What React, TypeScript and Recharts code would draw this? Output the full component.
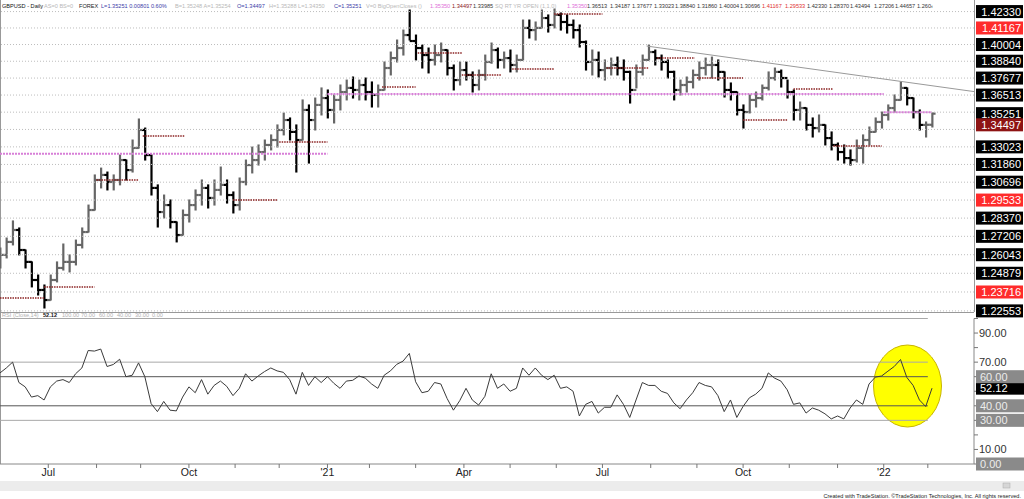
import React from "react"
import { ComposedChart, Bar, Line, XAxis, YAxis, ReferenceLine } from "recharts"

const FONT = '"Liberation Sans", Arial, sans-serif'

// each bar covers 3 trading days, x axis counts trading days from early June 2020
const BAR_DAYS = 3
const FIRST_OPEN = 1.259

const highs = [
  1.2647, 1.2710, 1.2819, 1.2774, 1.2634, 1.2559, 1.2477, 1.2415, 1.2477, 1.2559,
  1.2672, 1.2603, 1.2697, 1.2774, 1.2921, 1.3117, 1.3162, 1.3136, 1.3117, 1.3248,
  1.3215, 1.3348, 1.3489, 1.3428, 1.3248, 1.3052, 1.2986, 1.2954, 1.2812, 1.2889,
  1.2954, 1.3019, 1.3084, 1.3052, 1.3084, 1.3169, 1.3084, 1.3006, 1.3097, 1.3215,
  1.3301, 1.3315, 1.3348, 1.3382, 1.3449, 1.3529, 1.3496, 1.3449, 1.3618, 1.3584,
  1.3631, 1.3700, 1.3686, 1.3652, 1.3720, 1.3754, 1.3775, 1.3754, 1.3768, 1.3741,
  1.3720, 1.3879, 1.3948, 1.4032, 1.4102, 1.4244, 1.4067, 1.3997, 1.3976, 1.3997,
  1.4011, 1.3962, 1.3858, 1.3879, 1.3879, 1.3810, 1.3823, 1.3927, 1.4011, 1.3976,
  1.3948, 1.3962, 1.3927, 1.4173, 1.4173, 1.4159, 1.4244, 1.4209, 1.4251, 1.4223,
  1.4209, 1.4173, 1.4138, 1.4025, 1.3962, 1.3948, 1.3893, 1.3906, 1.3913, 1.3893,
  1.3815, 1.3858, 1.3927, 1.3997, 1.3962, 1.3927, 1.3893, 1.3815, 1.3754, 1.3775,
  1.3823, 1.3879, 1.3906, 1.3913, 1.3893, 1.3810, 1.3734, 1.3672, 1.3584, 1.3652,
  1.3672, 1.3720, 1.3810, 1.3837, 1.3823, 1.3754, 1.3686, 1.3604, 1.3563, 1.3496,
  1.3516, 1.3449, 1.3402, 1.3328, 1.3315, 1.3282, 1.3348, 1.3382, 1.3435, 1.3496,
  1.3536, 1.3584, 1.3652, 1.3741, 1.3700, 1.3631, 1.3550, 1.3469, 1.3529,
]

const lows = [
  1.2521, 1.2584, 1.2666, 1.2603, 1.2521, 1.2403, 1.2353, 1.2273, 1.2322, 1.2434,
  1.2508, 1.2496, 1.2540, 1.2647, 1.2748, 1.2889, 1.3032, 1.3019, 1.3019, 1.3052,
  1.3084, 1.3136, 1.3295, 1.3215, 1.2986, 1.2780, 1.2838, 1.2774, 1.2685, 1.2729,
  1.2812, 1.2889, 1.2921, 1.2902, 1.2921, 1.2986, 1.2934, 1.2870, 1.2889, 1.3052,
  1.3130, 1.3182, 1.3215, 1.3282, 1.3301, 1.3382, 1.3348, 1.3136, 1.3348, 1.3195,
  1.3415, 1.3516, 1.3496, 1.3462, 1.3550, 1.3618, 1.3631, 1.3618, 1.3618, 1.3570,
  1.3570, 1.3686, 1.3789, 1.3879, 1.3927, 1.4032, 1.3893, 1.3837, 1.3803, 1.3858,
  1.3879, 1.3789, 1.3686, 1.3720, 1.3754, 1.3672, 1.3686, 1.3754, 1.3870, 1.3837,
  1.3837, 1.3810, 1.3810, 1.3893, 1.4046, 1.4032, 1.4117, 1.4088, 1.4117, 1.4102,
  1.4081, 1.4046, 1.3983, 1.3823, 1.3789, 1.3775, 1.3754, 1.3789, 1.3789, 1.3754,
  1.3597, 1.3700, 1.3789, 1.3893, 1.3858, 1.3823, 1.3768, 1.3618, 1.3652, 1.3672,
  1.3700, 1.3754, 1.3789, 1.3768, 1.3754, 1.3638, 1.3618, 1.3516, 1.3428, 1.3530,
  1.3570, 1.3618, 1.3686, 1.3754, 1.3706, 1.3631, 1.3482, 1.3482, 1.3415, 1.3368,
  1.3402, 1.3315, 1.3282, 1.3215, 1.3195, 1.3182, 1.3202, 1.3195, 1.3315, 1.3402,
  1.3428, 1.3482, 1.3536, 1.3618, 1.3584, 1.3496, 1.3415, 1.3368, 1.3435,
]

const closes = [
  1.2603, 1.2685, 1.2761, 1.2634, 1.2559, 1.2446, 1.2384, 1.2322, 1.2446, 1.2521,
  1.2559, 1.2559, 1.2666, 1.2748, 1.2889, 1.3084, 1.3117, 1.3071, 1.3084, 1.3215,
  1.3149, 1.3295, 1.3415, 1.3248, 1.3032, 1.2876, 1.2921, 1.2812, 1.2729, 1.2857,
  1.2921, 1.2986, 1.3032, 1.2967, 1.3019, 1.3052, 1.2986, 1.2921, 1.3071, 1.3182,
  1.3215, 1.3268, 1.3315, 1.3348, 1.3415, 1.3482, 1.3402, 1.3348, 1.3550, 1.3482,
  1.3584, 1.3631, 1.3550, 1.3618, 1.3672, 1.3700, 1.3686, 1.3720, 1.3672, 1.3652,
  1.3686, 1.3837, 1.3906, 1.3976, 1.4067, 1.4025, 1.3976, 1.3927, 1.3893, 1.3927,
  1.3962, 1.3837, 1.3754, 1.3823, 1.3789, 1.3720, 1.3789, 1.3879, 1.3962, 1.3893,
  1.3906, 1.3858, 1.3893, 1.4117, 1.4102, 1.4117, 1.4187, 1.4138, 1.4209, 1.4159,
  1.4138, 1.4102, 1.4018, 1.3879, 1.3893, 1.3823, 1.3837, 1.3858, 1.3837, 1.3810,
  1.3686, 1.3810, 1.3893, 1.3948, 1.3906, 1.3879, 1.3810, 1.3686, 1.3720, 1.3741,
  1.3789, 1.3837, 1.3858, 1.3858, 1.3810, 1.3686, 1.3672, 1.3550, 1.3536, 1.3618,
  1.3631, 1.3700, 1.3768, 1.3810, 1.3768, 1.3672, 1.3550, 1.3563, 1.3449, 1.3428,
  1.3449, 1.3361, 1.3315, 1.3268, 1.3228, 1.3215, 1.3295, 1.3348, 1.3402, 1.3469,
  1.3516, 1.3563, 1.3618, 1.3700, 1.3631, 1.3536, 1.3449, 1.3450, 1.35251,
]

const rsiValues = [
  62.6, 66, 70, 56, 53, 46, 47, 44, 53, 57,
  58, 56, 62, 66, 78, 77.6, 79, 67, 68.4, 72,
  60, 61, 69.5, 60, 41.5, 36, 43, 37, 36.5, 46,
  53, 49, 58, 48, 54, 57, 53.4, 47, 52, 62,
  57, 60.5, 63.5, 66, 64, 63, 58, 48, 63, 54,
  60, 56, 60, 55.5, 52, 57, 57.5, 60.5, 59, 55,
  52, 61, 64, 68.5, 70.7, 76, 56.5, 49, 50, 56,
  55, 45, 37, 43.5, 52, 44, 40.5, 46.5, 62, 52,
  55, 50, 52, 66, 61, 66, 61, 58, 61, 52,
  53, 50, 33, 41, 43, 35, 39, 39, 47.5, 41,
  32, 44, 56, 54, 54, 50, 48.5, 42, 38, 44,
  49, 56, 54, 53, 47, 36, 44, 32, 39.6, 45.5,
  48, 52, 62.6, 59, 57, 51, 41, 42, 35, 38.5,
  37, 34.5, 31, 33, 31, 38.5, 44, 41, 55, 59.7,
  60.5, 63.8, 67, 71.8, 59.5, 54, 44, 39.5, 52.12,
]

// square-root levels around the year open, drawn as dotted grid
const sqrtLevels = [
  1.4233, 1.41167, 1.40004, 1.3884, 1.37677, 1.36513, 1.3535, 1.34187, 1.33023,
  1.3186, 1.30696, 1.29533, 1.2837, 1.27206, 1.26043, 1.24879, 1.23716, 1.22553,
]
const priceLabels = [
  1.4233, 1.41167, 1.40004, 1.3884, 1.37677, 1.36513, 1.35251, 1.34497, 1.33023,
  1.3186, 1.30696, 1.29533, 1.2837, 1.27206, 1.26043, 1.24879, 1.23716, 1.22553,
]
const redLabels = [1.41167, 1.29533, 1.23716]
const openLabel = 1.34497

// monthly open lines (BigOpenCloses)
const monthOpenLevels = [1.2335, 1.2403, 1.3084, 1.3375, 1.2954, 1.3335, 1.3706, 1.3941, 1.3789, 1.383, 1.4216, 1.3837, 1.3906, 1.3768, 1.3482, 1.3693, 1.3308]
const monthOpenFrom = [0, 21, 46, 68, 111, 133, 182, 199, 220, 244, 264, 289, 313, 332, 354, 378, 397]
const monthOpenTo = [21, 45, 66, 88, 132, 156, 198, 220, 239, 264, 287, 309, 331, 354, 375, 397, 420]

const yearOpenLevels = [1.3256, 1.3659, 1.3535]
const yearOpenFrom = [0, 156, 421]
const yearOpenTo = [156, 421, 444]

const trendDays = [308, 464]
const trendValues = [1.399, 1.3675]

const monthTickDays = [23, 46, 67, 90, 112, 133, 156, 176, 198, 221, 243, 265, 287, 310, 332, 354, 376, 399, 421, 442]
const monthTickLabels = ["Jul", "", "", "Oct", "", "", "'21", "", "", "Apr", "", "", "Jul", "", "", "Oct", "", "", "'22", ""]

const rsiBands = [100, 70, 60, 40, 30]
const rsiTicks = [0, 10, 20, 30, 40, 50, 52.12, 60, 70, 80, 90, 100]
const rsiBoxed = [60, 40, 30, 0]
const rsiPlain = [90, 70, 10]

const headerItems: [string, number, string][] = [
  ["GBPUSD - Daily", 2, "#111"],
  ["AS=0  BS=0", 44, "#b8b8b8"],
  ["FOREX", 79, "#222"],
  ["L=1.35251  0.00801  0.60%", 101, "#3c3ca8"],
  ["B=1.35248  A=1.35254", 175, "#b8b8b8"],
  ["O=1.34497", 237, "#3c3ca8"],
  ["H=1.35288  L=1.34350", 269, "#b8b8b8"],
  ["C=1.35251", 334, "#3c3ca8"],
  ["V=0  BigOpenCloses ()", 366, "#b8b8b8"],
  ["1.35350", 430, "#e070d8"],
  ["1.34497", 452, "#8b1a1a"],
  ["1.33985", 473, "#333"],
  ["SQ RT YR OPEN (1,1,0)", 495, "#b8b8b8"],
  ["1.35350", 567, "#e070d8"],
  ["1.36513", 587, "#333"],
  ["1.34187", 610, "#333"],
  ["1.37677", 632, "#333"],
  ["1.33023", 654, "#333"],
  ["1.38840", 675, "#333"],
  ["1.31860", 697, "#333"],
  ["1.40004", 719, "#333"],
  ["1.30696", 740, "#333"],
  ["1.41167", 762, "#e03030"],
  ["1.29533", 785, "#e03030"],
  ["1.42330", 807, "#333"],
  ["1.28370", 829, "#333"],
  ["1.43494", 850, "#333"],
  ["1.27206", 874, "#333"],
  ["1.44657", 895, "#333"],
  ["1.260\u2039", 917, "#333"],
]

const rsiHeader: [string, number, string][] = [
  ["RSI (Close,14)", 2, "#b0b0b0"],
  ["52.12", 43, "#111"],
  ["100.00", 62, "#b0b0b0"],
  ["70.00", 81, "#b0b0b0"],
  ["60.00", 99, "#b0b0b0"],
  ["40.00", 117, "#b0b0b0"],
  ["30.00", 135, "#b0b0b0"],
  ["0.00", 152, "#b0b0b0"],
]

const priceData = closes.map((close, i) => ({
  day: i * BAR_DAYS,
  open: i === 0 ? FIRST_OPEN : closes[i - 1],
  high: highs[i],
  low: lows[i],
  close,
  range: [lows[i], highs[i]],
}))

const rsiData = rsiValues.map((rsi, i) => ({ day: i * BAR_DAYS, rsi }))

function OhlcShape(props: any) {
  const { x, y, width, height } = props
  const d = props.payload || props
  if (height == null || isNaN(y)) return null
  const cx = x + width / 2
  const lh = Math.log(d.high)
  const ll = Math.log(d.low)
  // log price axis: place open/close inside the high-low span
  const toY = (v: number) => y + (height * (lh - Math.log(v))) / (lh - ll || 1)
  const up = d.close >= d.open
  const color = up ? "#666" : "#000"
  return (
    <g stroke={color} strokeWidth={2.2}>
      <line x1={cx} x2={cx} y1={y - 0.5} y2={y + height + 0.5} />
      <line x1={cx - 3.2} x2={cx} y1={toY(d.open)} y2={toY(d.open)} />
      <line x1={cx} x2={cx + 3.2} y1={toY(d.close)} y2={toY(d.close)} />
    </g>
  )
}

function PriceTick(props: any) {
  const { x, y, payload } = props
  const v = payload.value
  let bg = "#000"
  if (redLabels.includes(v)) bg = "#ff2b2b"
  else if (v === openLabel) bg = "#8e1414"
  return (
    <g>
      <rect x={x + 2} y={y - 6.5} width={47} height={13} fill={bg} />
      <text x={x + 47} y={y + 4} textAnchor="end" fontSize={11} fill="#fff" fontFamily={FONT}>
        {v.toFixed(5)}
      </text>
    </g>
  )
}

function RsiTick(props: any) {
  const { x, y, payload } = props
  const v = payload.value
  const label = v.toFixed(2)
  if (v === 52.12) {
    return (
      <g>
        <rect x={x + 2} y={y - 6.5} width={48} height={13} fill="#000" />
        <text x={x + 6} y={y + 4} fontSize={11} fill="#fff" fontFamily={FONT}>{label}</text>
      </g>
    )
  }
  const boxed = rsiBoxed.includes(v)
  const plain = rsiPlain.includes(v)
  return (
    <g>
      <line x1={x} x2={x + 4} y1={y} y2={y} stroke="#777" />
      {boxed && <rect x={x + 2} y={y - 6.5} width={48} height={13} fill="#8a8a8a" />}
      {boxed && (
        <text x={x + 6} y={y + 4} fontSize={11} fill="#ececec" fontFamily={FONT}>{label}</text>
      )}
      {plain && (
        <text x={x + 5} y={y + 4} fontSize={11} fill="#333" fontFamily={FONT}>{label}</text>
      )}
    </g>
  )
}

export default function App() {
  return (
    <div style={{ position: "absolute", left: 0, top: 0, width: 1024, height: 499, background: "#fff", overflow: "hidden" }}>
      <svg width={1024} height={499} style={{ position: "absolute", left: 0, top: 0 }} fontFamily={FONT}>
        <ellipse cx={907.5} cy={386} rx={34} ry={41} fill="#ffff00" stroke="#c8b400" strokeWidth={1} />
        <line x1={0.5} x2={0.5} y1={0} y2={464} stroke="#999" />
        <line x1={0} x2={974} y1={312.5} y2={312.5} stroke="#999" />
        <line x1={974.5} x2={974.5} y1={0} y2={312} stroke="#999" />
        <rect x={0} y={481} width={1024} height={10} fill="#ececec" />
        <rect x={1003} y={483} width={7} height={5} fill="#d6d6d6" stroke="#aaa" strokeWidth={0.5} />
        {headerItems.map(([t, x, c], i) => (
          <text key={i} x={x} y={8} fontSize={5.6} fill={c}>{t}</text>
        ))}
        {rsiHeader.map(([t, x, c], i) => (
          <text key={i} x={x} y={317.3} fontSize={5.6} fill={c} fontWeight={t === "52.12" ? "bold" : "normal"}>{t}</text>
        ))}
        <text x={1021} y={497.5} fontSize={5.6} fill="#222" textAnchor="end">
          Created with TradeStation. ©TradeStation Technologies, Inc. All rights reserved.
        </text>
      </svg>

      <div style={{ position: "absolute", left: 0, top: 0 }}>
        <ComposedChart width={1024} height={320} data={priceData} margin={{ top: 0, right: 0, bottom: 8, left: 0 }}>
          <XAxis type="number" dataKey="day" domain={[0, 464]} hide allowDataOverflow />
          <YAxis
            orientation="right"
            scale="log"
            domain={[1.22485, 1.43155]}
            allowDataOverflow
            width={50}
            ticks={priceLabels}
            interval={0}
            tick={(p: any) => <PriceTick {...p} />}
            tickLine={false}
            axisLine={false}
            tickSize={0}
            tickMargin={0}
          />
          {sqrtLevels.map((lv) => (
            <ReferenceLine key={"g" + lv} y={lv} stroke="#bdbdbd" strokeDasharray="1 2" />
          ))}
          {yearOpenLevels.map((lv, i) => (
            <ReferenceLine
              key={"y" + i}
              segment={[{ x: yearOpenFrom[i], y: lv }, { x: yearOpenTo[i], y: lv }]}
              stroke="#d77fd7"
              strokeWidth={2}
              strokeDasharray="2 1"
            />
          ))}
          {monthOpenLevels.map((lv, i) => (
            <ReferenceLine
              key={"m" + i}
              segment={[{ x: monthOpenFrom[i], y: lv }, { x: monthOpenTo[i], y: lv }]}
              stroke="#8b2222"
              strokeWidth={1.5}
              strokeDasharray="1.5 1"
            />
          ))}
          <ReferenceLine
            segment={[{ x: trendDays[0], y: trendValues[0] }, { x: trendDays[1], y: trendValues[1] }]}
            stroke="#999"
            strokeWidth={1}
          />
          <Bar dataKey="range" barSize={5} shape={(p: any) => <OhlcShape {...p} />} isAnimationActive={false} />
        </ComposedChart>
      </div>

      <div style={{ position: "absolute", left: 0, top: 300 }}>
        <ComposedChart width={1024} height={199} data={rsiData} margin={{ top: 18.5, right: 0, bottom: 0, left: 0 }}>
          <XAxis
            type="number"
            dataKey="day"
            domain={[0, 464]}
            allowDataOverflow
            ticks={monthTickDays}
            interval={0}
            tickFormatter={(d: number) => monthTickLabels[monthTickDays.indexOf(d)]}
            tick={{ fontSize: 10.5, fill: "#222", fontFamily: FONT }}
            tickLine={{ stroke: "#777" }}
            axisLine={{ stroke: "#888" }}
            tickSize={4}
            tickMargin={1}
            height={35}
          />
          <YAxis
            orientation="right"
            domain={[0, 100]}
            allowDataOverflow
            width={50}
            ticks={rsiTicks}
            interval={0}
            tick={(p: any) => <RsiTick {...p} />}
            tickLine={false}
            axisLine={{ stroke: "#888" }}
            tickSize={0}
            tickMargin={0}
          />
          {rsiBands.map((b) => (
            <ReferenceLine
              key={"b" + b}
              segment={[{ x: 0, y: b }, { x: 442, y: b }]}
              stroke={b === 60 || b === 40 ? "#555" : "#a8a8a8"}
              strokeWidth={1}
            />
          ))}
          <Line type="linear" dataKey="rsi" stroke="#3a3a3a" strokeWidth={1} dot={false} isAnimationActive={false} />
        </ComposedChart>
      </div>
    </div>
  )
}
